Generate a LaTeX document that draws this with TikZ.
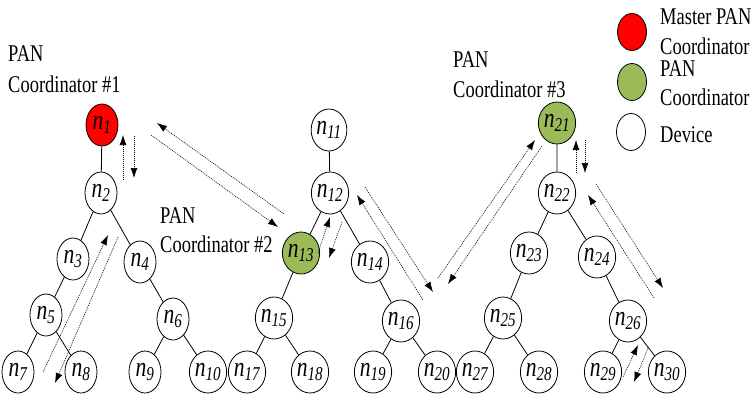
\documentclass[tikz,border=0pt]{standalone}
\usepackage{fontspec}
\setmainfont{Liberation Serif}[FakeStretch=0.77]
\usepackage{tikz}
\usetikzlibrary{shapes,arrows.meta}
\definecolor{master}{RGB}{255,0,0}
\definecolor{coord}{RGB}{155,187,89}
\newcommand{\nlab}[1]{n\textsubscript{#1}}
\tikzset{
  dev/.style={draw,ellipse,minimum width=32pt,minimum height=42pt,inner sep=0pt,line width=0.8pt,font=\fontsize{28}{28}\selectfont\itshape},
  key/.style={draw,ellipse,minimum width=29pt,minimum height=37pt,inner sep=0pt,line width=0.8pt},
  txt/.style={anchor=base west,inner sep=0pt,font=\fontsize{24}{24}\selectfont},
  link/.style={line width=0.8pt},
  flow/.style={dash pattern=on 1pt off 1pt,line width=0.6pt,-{Latex[length=10pt,width=7pt]}}
}
\begin{document}
\begin{tikzpicture}[x=1pt,y=-1pt]
\useasboundingbox (0,0) rectangle (754,396);
% tree 1
\node[dev,fill=master] (n1) at (102,125) {\nlab{1}};
\node[dev] (n2) at (101,193) {\nlab{2}};
\node[dev] (n3) at (73,259) {\nlab{3}};
\node[dev] (n4) at (140,262) {\nlab{4}};
\node[dev] (n5) at (46,315) {\nlab{5}};
\node[dev] (n6) at (173,319) {\nlab{6}};
\node[dev] (n7) at (18,372) {\nlab{7}};
\node[dev] (n8) at (81,372) {\nlab{8}};
\node[dev] (n9) at (145,372) {\nlab{9}};
\node[dev] (n10) at (208,372) {\nlab{10}};
% tree 2
\node[dev] (n11) at (329,130) {\nlab{11}};
\node[dev] (n12) at (330,193) {\nlab{12}};
\node[dev,fill=coord] (n13) at (301,253) {\nlab{13}};
\node[dev] (n14) at (370,262) {\nlab{14}};
\node[dev] (n15) at (274,318) {\nlab{15}};
\node[dev] (n16) at (401,321) {\nlab{16}};
\node[dev] (n17) at (247,372) {\nlab{17}};
\node[dev] (n18) at (310,372) {\nlab{18}};
\node[dev] (n19) at (373,372) {\nlab{19}};
\node[dev] (n20) at (437,372) {\nlab{20}};
% tree 3
\node[dev,fill=coord] (n21) at (557,123) {\nlab{21}};
\node[dev] (n22) at (557,193) {\nlab{22}};
\node[dev] (n23) at (529,253) {\nlab{23}};
\node[dev] (n24) at (597,257) {\nlab{24}};
\node[dev] (n25) at (503,318) {\nlab{25}};
\node[dev] (n26) at (628,321) {\nlab{26}};
\node[dev] (n27) at (475,372) {\nlab{27}};
\node[dev] (n28) at (539,372) {\nlab{28}};
\node[dev] (n29) at (603,372) {\nlab{29}};
\node[dev] (n30) at (667,372) {\nlab{30}};
% tree links
\draw[link] (n1)--(n2) (n2)--(n3) (n2)--(n4) (n3)--(n5) (n4)--(n6) (n5)--(n7) (n5)--(n8) (n6)--(n9) (n6)--(n10);
\draw[link] (n11)--(n12) (n12)--(n13) (n12)--(n14) (n13)--(n15) (n14)--(n16) (n15)--(n17) (n15)--(n18) (n16)--(n19) (n16)--(n20);
\draw[link] (n21)--(n22) (n22)--(n23) (n22)--(n24) (n23)--(n25) (n24)--(n26) (n25)--(n27) (n25)--(n28) (n26)--(n29) (n26)--(n30);
% labels
\node[txt] (p1) at (8,62) {PAN};
\node[txt] (c1) at (8,92) {Coordinator \#1};
\node[txt] (p2) at (160,223) {PAN};
\node[txt] (c2) at (160,252) {Coordinator \#2};
\node[txt] (p3) at (453,67) {PAN};
\node[txt] (c3) at (453,97) {Coordinator \#3};
% legend
\node[key,fill=master] (k1) at (632,32) {};
\node[key,fill=coord] (k2) at (632,82) {};
\node[key] (k3) at (631,132) {};
\node[txt] (t1) at (660,25) {Master PAN};
\node[txt] (t2) at (660,55) {Coordinator};
\node[txt] (t3) at (660,77) {PAN};
\node[txt] (t4) at (660,105) {Coordinator};
\node[txt] (t5) at (660,142) {Device};
% message ends
\coordinate (a1) at (123,180); \coordinate (b1) at (123,135);
\coordinate (a2) at (134,136); \coordinate (b2) at (134,178);
\coordinate (a3) at (284,214); \coordinate (b3) at (157,123);
\coordinate (a4) at (151,135); \coordinate (b4) at (278,227);
\coordinate (a5) at (43,372); \coordinate (b5) at (108,235);
\coordinate (a6) at (118,237); \coordinate (b6) at (55,383);
\coordinate (a7) at (318,253); \coordinate (b7) at (330,217);
\coordinate (a8) at (342,222); \coordinate (b8) at (329,258);
\coordinate (a9) at (423,300); \coordinate (b9) at (357,195);
\coordinate (a10) at (365,187); \coordinate (b10) at (433,292);
\coordinate (a11) at (438,278); \coordinate (b11) at (535,140);
\coordinate (a12) at (542,146); \coordinate (b12) at (448,284);
\coordinate (a13) at (576,173); \coordinate (b13) at (576,140);
\coordinate (a14) at (585,140); \coordinate (b14) at (585,173);
\coordinate (a15) at (654,298); \coordinate (b15) at (588,195);
\coordinate (a16) at (596,184); \coordinate (b16) at (663,288);
\coordinate (a17) at (623,377); \coordinate (b17) at (638,345);
\coordinate (a18) at (648,348); \coordinate (b18) at (634,382);
% messages
\draw[flow] (a1)--(b1); \draw[flow] (a2)--(b2); % n1 - n2
\draw[flow] (a3)--(b3); \draw[flow] (a4)--(b4); % n1 - n13
\draw[flow] (a5)--(b5); \draw[flow] (a6)--(b6); % n2 - n7
\draw[flow] (a7)--(b7); \draw[flow] (a8)--(b8); % n13 - n12
\draw[flow] (a9)--(b9); \draw[flow] (a10)--(b10); % n12 - n20
\draw[flow] (a11)--(b11); \draw[flow] (a12)--(b12); % n21 - n20
\draw[flow] (a13)--(b13); \draw[flow] (a14)--(b14); % n21 - n22
\draw[flow] (a15)--(b15); \draw[flow] (a16)--(b16); % n22 - n26
\draw[flow] (a17)--(b17); \draw[flow] (a18)--(b18); % n26 - n29
\end{tikzpicture}
\end{document}
